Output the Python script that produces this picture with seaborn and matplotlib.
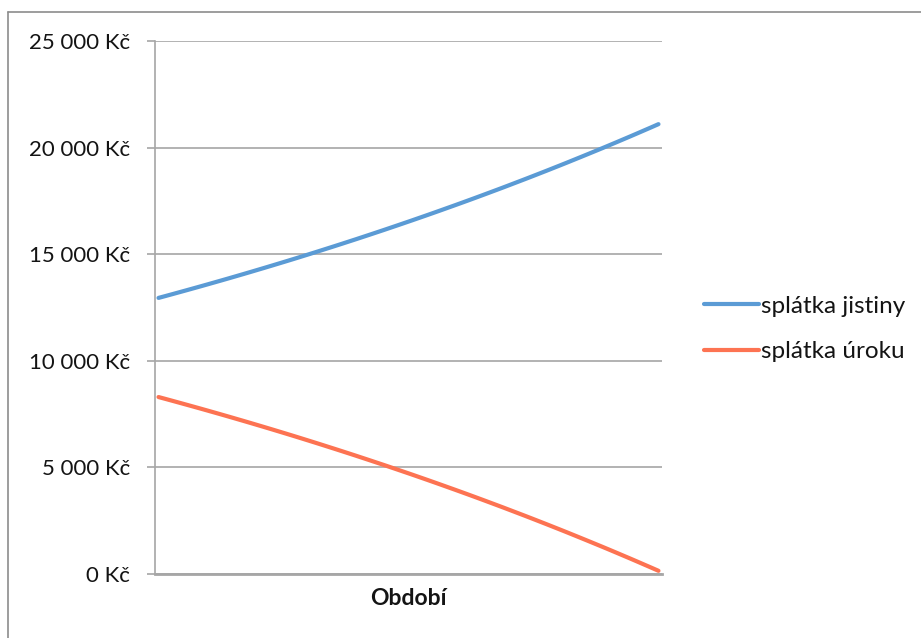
import matplotlib
matplotlib.use("Agg")
import matplotlib.pyplot as plt
from matplotlib.lines import Line2D
import seaborn as sns
import pandas as pd

# Monthly payments of an annuity loan: principal vs. interest part
splatka_jistiny = [
    12950, 13039, 13129, 13220, 13311, 13403, 13495, 13588, 13682, 13776,
    13871, 13967, 14063, 14160, 14258, 14356, 14455, 14555, 14655, 14756,
    14858, 14961, 15064, 15168, 15273, 15378, 15484, 15591, 15698, 15807,
    15916, 16026, 16136, 16248, 16360, 16473, 16586, 16701, 16816, 16932,
    17049, 17167, 17285, 17404, 17524, 17645, 17767, 17890, 18013, 18137,
    18263, 18389, 18515, 18643, 18772, 18901, 19032, 19163, 19295, 19429,
    19563, 19698, 19834, 19970, 20108, 20247, 20387, 20527, 20669, 20812,
    20955, 21100,
]
splatka_uroku = [
    8300, 8211, 8121, 8030, 7939, 7847, 7755, 7662, 7568, 7474,
    7379, 7283, 7187, 7090, 6992, 6894, 6795, 6695, 6595, 6494,
    6392, 6289, 6186, 6082, 5977, 5872, 5766, 5659, 5552, 5443,
    5334, 5224, 5114, 5002, 4890, 4777, 4664, 4549, 4434, 4318,
    4201, 4083, 3965, 3846, 3726, 3605, 3483, 3360, 3237, 3113,
    2987, 2861, 2735, 2607, 2478, 2349, 2218, 2087, 1955, 1821,
    1687, 1552, 1416, 1280, 1142, 1003, 863, 723, 581, 438,
    295, 150,
]
obdobi = list(range(1, len(splatka_jistiny) + 1))
series_names = ["splátka jistiny", "splátka úroku"]
y_ticks = [0, 5000, 10000, 15000, 20000, 25000]
y_tick_labels = ["0 Kč", "5 000 Kč", "10 000 Kč", "15 000 Kč", "20 000 Kč", "25 000 Kč"]

df = pd.DataFrame({
    "Období": obdobi * 2,
    "Částka": splatka_jistiny + splatka_uroku,
    "Řada": [series_names[0]] * len(obdobi) + [series_names[1]] * len(obdobi),
})

sns.set_theme(style="white")
plt.rcParams["font.family"] = ["Lato", "DejaVu Sans"]

W, H = 921, 638
fig = plt.figure(figsize=(W / 100, H / 100), dpi=100)
ax = fig.add_axes([155 / W, (H - 574) / H, (662 - 155) / W, (574 - 41) / H])

colors = {series_names[0]: "#5b9bd5", series_names[1]: "#fd7352"}
sns.lineplot(data=df, x="Období", y="Částka", hue="Řada", palette=colors,
             linewidth=3, ax=ax, legend=False)

text_c = "#141414"
grid_c = "#a6a6a6"
ax.set_xlim(0.5, len(obdobi) + 0.5)
ax.set_ylim(0, 25000)
ax.set_yticks(y_ticks)
ax.set_yticklabels(y_tick_labels, fontsize=16, color=text_c)
ax.set_xticks([])
ax.yaxis.grid(True, color=grid_c, linewidth=1.2)
ax.set_axisbelow(True)
ax.tick_params(axis="y", which="major", length=6, width=1.2, color=grid_c,
               direction="out", left=True, pad=12)
for side in ["top", "right"]:
    ax.spines[side].set_visible(False)
ax.spines["left"].set_color(grid_c)
ax.spines["left"].set_linewidth(1.2)
ax.spines["bottom"].set_color(grid_c)
ax.spines["bottom"].set_linewidth(2)
ax.set_ylabel("")
ax.set_xlabel("Období", fontsize=16.5, fontweight="bold", color=text_c, labelpad=10)

handles = [Line2D([0], [0], color=colors[n], linewidth=3) for n in series_names]
fig.legend(handles, series_names, loc="center left",
           bbox_to_anchor=(682 / W, 1 - 329 / H), frameon=False,
           fontsize=17.5, handlelength=2.25, handletextpad=0.12,
           labelspacing=1.0, labelcolor=text_c)

# chart area border (top and left edges)
fig.add_artist(Line2D([8 / W, 8 / W], [0, 1 - 12 / H], color="#8c8c8c",
                      linewidth=1.2, transform=fig.transFigure))
fig.add_artist(Line2D([8 / W, 1], [1 - 12 / H, 1 - 12 / H], color="#8c8c8c",
                      linewidth=1.2, transform=fig.transFigure))

fig.savefig("out.png", dpi=100, facecolor="white")
